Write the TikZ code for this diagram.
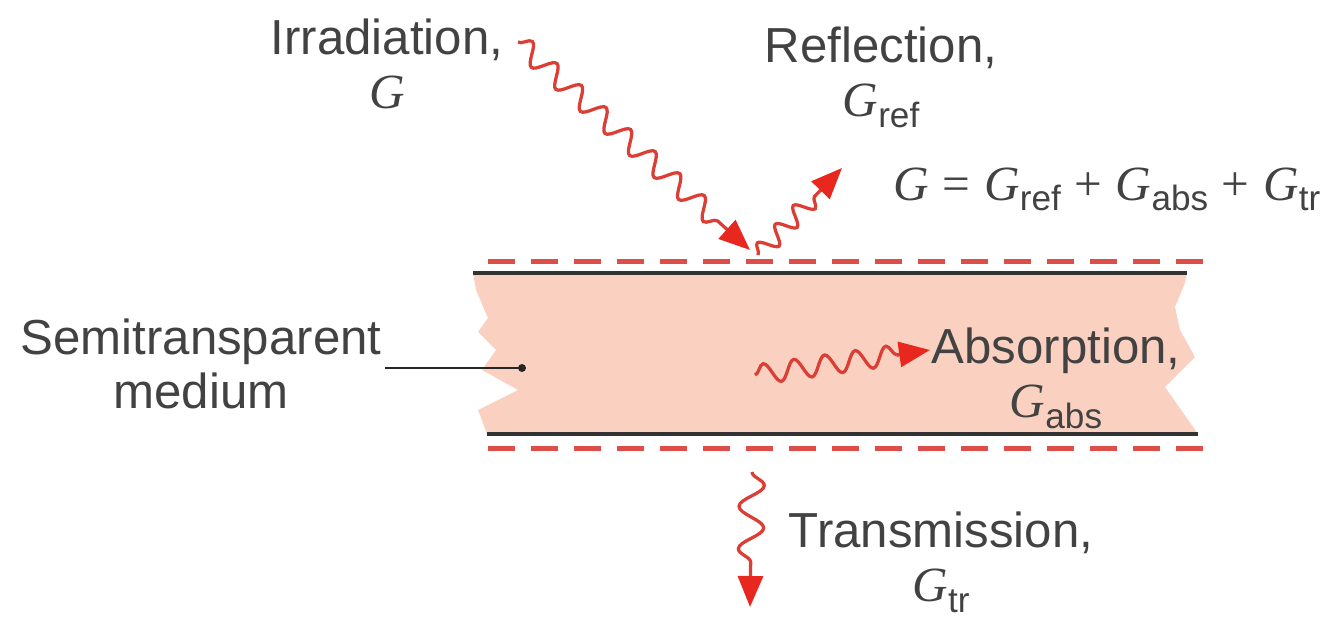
\documentclass[tikz,border=0pt]{standalone}
\usepackage{fontspec}
\setmainfont{Liberation Sans}
\newfontfamily\gfont{Liberation Serif}
\usetikzlibrary{arrows.meta,decorations.pathmorphing}
\definecolor{raycol}{RGB}{219,62,52}
\definecolor{tipcol}{RGB}{232,40,30}
\definecolor{dashcol}{RGB}{222,78,72}
\definecolor{slabcol}{RGB}{250,209,192}
\definecolor{txtcol}{RGB}{66,66,66}
\newcommand{\Gsym}{{\gfont\itshape G}}
\newcommand{\Gs}[1]{\Gsym\raisebox{-0.22em}{\fontsize{20}{20}\selectfont #1}}

\begin{document}
\begin{tikzpicture}[x=0.02cm,y=-0.02cm,
    lbl/.style={text=txtcol,align=center,inner sep=2pt,font=\fontsize{28}{31}\selectfont},
    ray/.style 2 args={draw=raycol,line width=0.065cm,decorate,
        decoration={snake,segment length=#1,amplitude=#2,post length=0.62cm},
        -{Triangle[length=0.62cm,width=0.5cm,color=tipcol]}},
    faceline/.style={draw=black!80,line width=0.08cm},
    surf/.style={draw=dashcol,line width=0.1cm,dash pattern=on 0.54cm off 0.32cm}]
    \useasboundingbox (0,0) rectangle (1339,622);

    % medium
    \fill[slabcol] (473,273) -- (1187,273) -- (1185,283) -- (1175,307) -- (1180,330)
        -- (1195,357) -- (1165,387) -- (1198,434) -- (487,434) -- (478,410) -- (518,390)
        -- (482,370) -- (496,350) -- (478,332) -- (488,318) -- (476,290) -- cycle;
    \draw[faceline] (473,273) -- (1187,273);
    \draw[faceline] (487,434) -- (1198,434);
    \draw[surf] (488,261) -- (1203,261);
    \draw[surf] (488,448) -- (1203,448);

    % labels
    \node[lbl,anchor=north] (irr) at (387,15) {Irradiation,\\\Gsym};
    \node[lbl,anchor=north] (refl) at (881,23) {Reflection,\\\Gs{ref}};
    \node[lbl,anchor=base] (eqn) at (1107,200)
        {\Gsym\ {\gfont=} \Gs{ref} {\gfont+} \Gs{abs} {\gfont+} \Gs{tr}};
    \node[lbl,anchor=north] (semi) at (201,315) {Semitransparent\\medium};
    \node[lbl,anchor=north] (abso) at (1056,324) {Absorption,\\\Gs{abs}};
    \node[lbl,anchor=north] (trans) at (941,508) {Transmission,\\\Gs{tr}};

    % rays
    \coordinate (irrA) at (518,42);
    \coordinate (hit) at (750,250);
    \coordinate (bounce) at (758,255);
    \coordinate (reflA) at (842,168);
    \coordinate (absA) at (755,375);
    \coordinate (absB) at (930,350);
    \coordinate (trA) at (752,472);
    \coordinate (trB) at (750,607);
    \coordinate (mdot) at (522,368);
    \draw[ray={0.66cm}{0.2cm}] (irrA) -- (hit);
    \draw[ray={0.52cm}{0.18cm}] (bounce) -- (reflA);
    \draw[ray={0.62cm}{0.2cm}] (absA) -- (absB);
    \draw[ray={0.85cm}{0.25cm}] (trA) -- (trB);

    \draw[black!85,line width=0.045cm] (semi.east |- mdot) -- (mdot);
    \fill[black!85] (mdot) circle (0.08cm);
\end{tikzpicture}
\end{document}
